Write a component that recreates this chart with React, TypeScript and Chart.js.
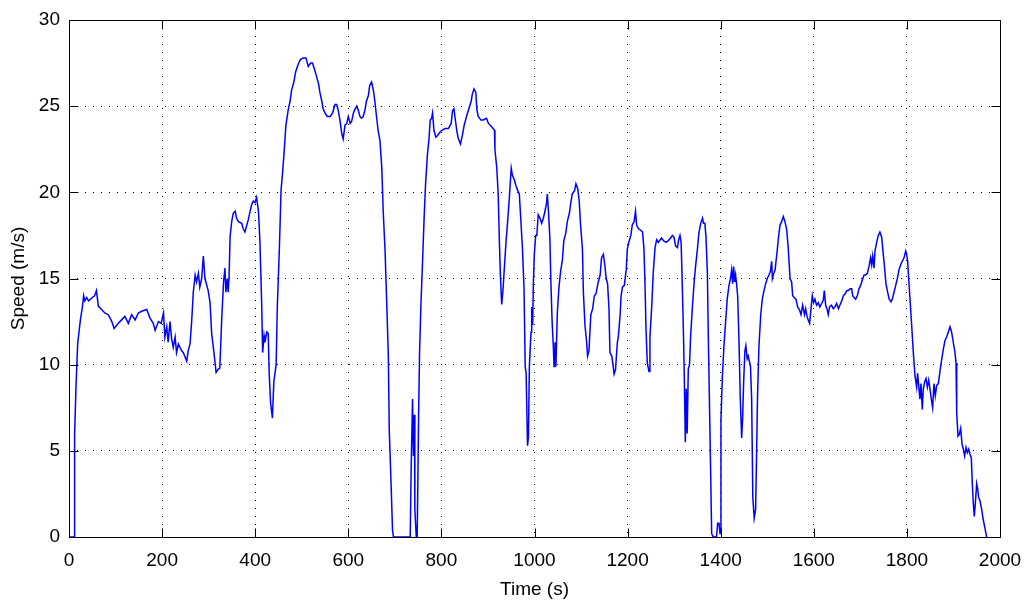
import React, { useEffect, useRef } from 'react';
import { Chart, registerables } from 'chart.js';

Chart.register(...registerables);

// Time (s)
const timeS = [
  0, 11, 12, 15, 18.6, 21.5, 25, 28.6, 31.5, 34, 38, 42, 46, 50, 55, 59, 63, 70, 77, 84.5, 92, 97, 106, 113, 120, 127.5, 134.6, 142, 149, 156, 167, 174, 181, 185, 192, 198, 203, 206, 210, 213, 217, 220.5, 224, 228, 231, 235, 242, 245.6, 253, 256, 260, 263.5, 267, 271, 274, 278, 281, 285, 288.6, 292, 296, 299, 303, 306.5, 311, 316, 321,
  324, 328, 332, 335, 337, 340, 342, 344, 346, 349.5, 353, 357, 360, 364, 371, 374, 378, 382, 385, 389, 392.5, 396, 399.5, 403, 407, 410, 414, 416, 419, 421, 425, 428, 430, 433, 437, 440, 445, 447.5, 452, 455.5, 459, 462, 466, 471, 475, 478, 483, 487, 492, 497, 503, 509, 514, 519, 523, 528, 532, 536, 539, 543, 546, 550, 555, 561, 566, 571.5, 575, 578, 582, 586, 589, 593, 596.5, 600, 604, 607, 611, 614, 618, 621, 625, 628, 632, 636, 639, 643, 646, 650, 654, 657, 661, 664,
  668, 672, 675, 679, 683, 686, 688, 692, 695, 697, 733, 735, 738, 740, 742, 743, 746, 748, 751, 753, 756, 759, 763, 766, 770, 773.4, 776, 779, 781, 784, 788, 792, 797, 801, 808, 815, 821, 824, 827, 829, 833, 836.4, 841, 845, 849, 854, 859, 864, 866.5, 870, 874, 876, 879, 885, 890, 897, 901, 908, 914, 915, 919, 922, 924.5, 927, 929.5, 932, 935, 939, 942, 946, 950, 952.4, 957, 960, 964, 967.4, 970, 974, 977.5, 980, 982, 985, 987, 989,
  992.5, 994, 996, 997.5, 999.6, 1002.5, 1005, 1008, 1012, 1015.4, 1019, 1022.5, 1026, 1027.5, 1030, 1033, 1035.4, 1038, 1040.4, 1042, 1044, 1046, 1049, 1052.6, 1056, 1060, 1063, 1067, 1070.5, 1075, 1078, 1081, 1086, 1089, 1093, 1096, 1099, 1103, 1105, 1108.4, 1112, 1114, 1117, 1121, 1125, 1128.5, 1132, 1137, 1141, 1144, 1148, 1151.4, 1154, 1157, 1160, 1162, 1166, 1168, 1171, 1174, 1178, 1180, 1184, 1186, 1189, 1193, 1197, 1199.4, 1203, 1207, 1210, 1214, 1217, 1219.4, 1223, 1228, 1232, 1235, 1237.3, 1239.5, 1242.3, 1246, 1248, 1252, 1255, 1259, 1262.4, 1266, 1270, 1273, 1277, 1282.4, 1287.5, 1292.5, 1296, 1299.6, 1303, 1307, 1310, 1312.5, 1315, 1317.5, 1320, 1322, 1324, 1326, 1328, 1330.4, 1333,
  1335.5, 1339, 1343, 1346, 1350, 1353, 1357, 1361, 1363, 1366, 1368.4, 1371.3, 1373.4, 1377, 1380.6, 1384, 1391, 1393.5, 1396.3, 1398.5, 1400.6, 1403.5, 1407, 1410.6, 1414, 1417.8, 1421, 1423.5, 1425.7, 1427.8, 1430, 1432, 1434, 1436.4, 1439, 1442, 1445, 1447, 1449.3, 1452, 1454, 1457, 1459, 1461.5, 1464, 1466.5, 1469, 1472, 1475, 1477, 1479, 1482, 1486, 1489.4, 1493, 1496.6, 1500, 1503.7, 1506.6, 1509.5, 1511, 1514, 1517, 1518.8, 1521, 1524, 1527.4, 1531, 1534.5, 1538, 1541.7, 1545, 1549, 1552.4, 1554.6, 1558, 1561.7, 1565.3, 1569, 1572.5, 1576, 1580, 1582.5, 1585.4, 1588, 1591, 1594, 1596.8, 1599.7, 1602.5, 1606, 1609.7, 1613, 1617, 1620.4, 1622.6, 1625.5, 1628.3, 1631, 1634, 1638, 1642, 1645.5, 1649, 1653,
  1656, 1660, 1663.5, 1667, 1671, 1674.2, 1678, 1681.4, 1683.5, 1686.4, 1690, 1693.5, 1697, 1700.7, 1704, 1708, 1711.4, 1715, 1718.6, 1722, 1724.3, 1726.5, 1729.3, 1731.5, 1735, 1738.6, 1742, 1745.8, 1748, 1751.5, 1755, 1758.7, 1762, 1766, 1768.7, 1772.3, 1776, 1779.5, 1783, 1786.6, 1790, 1793.8, 1797.4, 1799.5, 1801.6, 1803.8, 1806.7, 1810.2, 1813.8, 1817.4, 1821, 1823, 1826, 1828, 1830.3, 1833, 1835.3, 1838, 1841, 1844, 1846.8, 1849.6, 1852.5, 1855.3, 1858.2, 1861, 1864, 1867.5, 1871, 1874.7, 1878.3, 1881.8, 1885.4, 1889, 1892.6, 1896, 1899.7, 1903.3, 1905.5, 1907, 1909.8, 1912.6, 1915.5, 1918.4, 1921.2, 1924, 1927, 1929.8, 1932.7, 1935.5, 1938.4, 1940.5, 1942.7, 1944.8, 1947, 1949.9, 1952, 1954, 1957, 1960.6, 1964, 1967.8, 1971.3,
];

// Speed (m/s)
const speedMs = [
  0, 0, 5.9, 8.7, 11.2, 11.9, 12.7, 13.3, 14.0, 13.7, 13.9, 13.7, 13.8, 13.9, 14.0, 14.3, 13.4, 13.2, 13.0, 12.9, 12.5, 12.1, 12.4, 12.6, 12.8, 12.4, 12.9, 12.6, 13.0, 13.1, 13.2, 12.7, 12.4, 12.0, 12.5, 12.4, 13.0, 11.6, 12.2, 11.3, 12.5, 11.5, 11.0, 11.6, 10.7, 11.2, 10.8, 10.7, 10.2, 10.8, 11.2, 12.5, 14.2, 15.2, 14.8, 15.3, 14.5, 15.0, 16.3, 15.0, 14.6, 14.3, 13.6, 11.8, 10.8, 9.55, 9.75,
  9.8, 12.6, 14.8, 15.6, 14.2, 15.0, 14.2, 15.2, 17.4, 18.3, 18.8, 18.9, 18.5, 18.3, 18.2, 17.9, 17.7, 18.1, 18.4, 18.9, 19.3, 19.5, 19.4, 19.7, 18.9, 17.25, 13.45, 10.7, 11.7, 11.3, 11.9, 11.8, 9.55, 7.8, 6.9, 9.0, 10.0, 13.35, 16.8, 20.1, 21.2, 22.3, 23.9, 24.8, 25.3, 25.9, 26.4, 27.0, 27.4, 27.7, 27.8, 27.8, 27.3, 27.5, 27.5, 27.1, 26.7, 26.3, 25.8, 25.3, 24.85, 24.6, 24.4, 24.4, 24.6, 25.1, 25.1, 24.8, 24.2, 23.4, 23.1, 23.9, 24.0, 24.4, 24.0, 24.1, 24.6, 24.8, 25.0, 24.8, 24.4, 24.3, 24.4, 24.8, 25.3, 25.6, 26.2, 26.4, 25.9, 25.3, 24.3, 23.6,
  23.0, 21.4, 18.9, 16.6, 13.2, 10.5, 6.2, 3.0, 0.4, 0, 0, 3.9, 8.0, 4.7, 7.1, 1.6, 0, 0, 7.0, 10.6, 13.45, 15.6, 18.6, 20.5, 22.2, 23.1, 24.2, 24.3, 24.6, 23.6, 23.2, 23.3, 23.5, 23.6, 23.7, 23.7, 24.0, 24.75, 24.85, 24.4, 23.6, 23.1, 22.8, 23.3, 23.9, 24.4, 24.85, 25.3, 25.7, 26.0, 25.8, 24.85, 24.4, 24.2, 24.2, 24.3, 24.0, 23.8, 23.6, 22.5, 21.4, 19.9, 17.2, 15.0, 13.5, 14.2, 15.5, 17.2, 18.2, 19.7, 21.4, 21.0, 20.7, 20.4, 20.1, 19.9, 18.7, 16.8, 14.4, 9.9, 9.5, 5.3, 5.8, 9.9,
  11.9, 13.35, 12.3, 14.6, 16.4, 17.5, 17.5, 18.7, 18.5, 18.2, 18.5, 18.9, 19.4, 19.9, 18.9, 17.35, 14.6, 12.4, 11.1, 9.9, 11.3, 9.9, 13.0, 14.5, 15.4, 16.1, 17.2, 17.6, 18.3, 18.8, 19.4, 19.9, 20.1, 20.5, 20.2, 19.5, 18.1, 16.7, 14.2, 12.3, 11.3, 10.5, 10.8, 12.9, 13.25, 14.0, 14.1, 14.8, 15.2, 16.2, 16.4, 15.7, 15.0, 14.7, 13.25, 10.7, 10.5, 10.1, 9.45, 9.7, 11.3, 11.6, 12.9, 14.0, 14.5, 14.6, 15.5, 16.7, 17.15, 17.5, 18.1, 18.3, 18.9, 18.1, 17.9, 17.8, 17.7, 16.8, 14.8, 12.1, 10.1, 9.6, 11.6, 13.45, 15.3, 16.8, 17.25, 17.1, 17.25, 17.35, 17.2, 17.1, 17.2, 17.35, 17.5, 17.4, 16.9, 16.8, 17.3, 17.5, 17.1, 14.6, 11.8, 9.0, 5.5, 8.6, 6.0, 9.75, 10.0,
  11.7, 13.25, 14.8, 15.7, 16.7, 17.6, 18.2, 18.5, 18.2, 18.2, 17.4, 15.4, 11.6, 6.0, 0.2, 0, 0, 0.8, 0.8, 0.2, 6.8, 9.3, 11.1, 12.5, 13.8, 14.6, 15.0, 15.5, 14.7, 15.7, 14.8, 15.2, 14.7, 14.0, 11.7, 8.1, 5.75, 6.8, 9.0, 10.8, 11.1, 10.35, 10.5, 10.2, 9.9, 8.0, 2.3, 1.1, 1.6, 4.7, 8.0, 11.0, 12.9, 13.8, 14.3, 14.7, 15.0, 15.2, 15.4, 16.0, 15.0, 15.3, 15.5, 16.0, 16.5, 17.35, 18.1, 18.3, 18.6, 18.3, 17.85, 16.8, 15.0, 14.8, 14.0, 13.9, 13.8, 13.35, 13.2, 12.9, 13.45, 12.9, 13.25, 12.8, 12.6, 12.4, 13.25, 14.0, 13.6, 13.8, 13.45, 13.6, 13.35, 13.55, 13.75, 14.3, 13.45, 13.25, 12.9, 13.35, 13.45, 13.25, 13.35, 13.55, 13.25,
  13.45, 13.7, 14.0, 14.1, 14.3, 14.3, 14.4, 14.4, 14.0, 13.9, 13.8, 14.0, 14.4, 14.6, 14.9, 15.2, 15.2, 15.3, 15.7, 16.2, 15.8, 16.3, 15.6, 16.6, 17.1, 17.5, 17.7, 17.4, 16.75, 15.8, 14.7, 14.2, 13.8, 13.65, 13.8, 14.2, 14.6, 15.0, 15.5, 15.8, 16.0, 16.2, 16.6, 16.4, 16.0, 15.0, 13.8, 12.3, 10.7, 9.35, 8.7, 9.5, 8.6, 8.0, 8.9, 7.4, 8.6, 9.0, 9.2, 8.7, 9.1, 8.6, 8.0, 7.5, 8.9, 8.2, 8.8, 8.9, 9.6, 10.3, 10.9, 11.4, 11.6, 11.9, 12.2, 11.9, 11.3, 10.7, 10.1, 7.2, 5.85, 5.95, 6.3, 5.4, 5.1, 4.7, 5.2, 4.9, 5.1, 4.8, 4.6, 3.1, 1.95, 1.2, 1.95, 3.1, 2.8, 2.3, 2.1, 1.6, 1.0, 0.5, 0,
];

const xTicks = [0, 200, 400, 600, 800, 1000, 1200, 1400, 1600, 1800, 2000];
const yTicks = [0, 5, 10, 15, 20, 25, 30];

const FONT = "'Liberation Sans', Arial, sans-serif";

const matlabFrame = {
  id: 'matlabFrame',
  afterDatasetsDraw(chart: any) {
    const { ctx, chartArea, scales } = chart;
    const { left, right, top, bottom } = chartArea;
    const x = scales.x;
    const y = scales.y;
    const L = 9;
    const l = Math.round(left) + 0.5;
    const r = Math.round(right) + 0.5;
    const t = Math.round(top) + 0.5;
    const b = Math.round(bottom) + 0.5;
    ctx.save();
    ctx.strokeStyle = '#000';
    ctx.lineWidth = 1;
    ctx.setLineDash([]);
    ctx.beginPath();
    ctx.moveTo(l, t);
    ctx.lineTo(r, t);
    ctx.lineTo(r, b);
    ctx.lineTo(l, b);
    ctx.closePath();
    for (const v of xTicks) {
      const px = Math.round(x.getPixelForValue(v)) + 0.5;
      ctx.moveTo(px, b);
      ctx.lineTo(px, b - L);
      ctx.moveTo(px, t);
      ctx.lineTo(px, t + L);
    }
    for (const v of yTicks) {
      const py = Math.round(y.getPixelForValue(v)) + 0.5;
      ctx.moveTo(l, py);
      ctx.lineTo(l + L, py);
      ctx.moveTo(r, py);
      ctx.lineTo(r - L, py);
    }
    ctx.stroke();
    ctx.restore();
  },
};

export default function App() {
  const ref = useRef<HTMLCanvasElement | null>(null);

  useEffect(() => {
    document.body.style.margin = '0';
    const canvas = ref.current;
    if (!canvas) return;
    const points = timeS.map((t, i) => ({ x: t, y: speedMs[i] }));
    const chart = new Chart(canvas, {
      type: 'line',
      data: {
        datasets: [
          {
            label: 'Speed',
            data: points,
            borderColor: '#0000ff',
            borderWidth: 1.5,
            pointRadius: 0,
            fill: false,
            tension: 0,
          },
        ],
      },
      options: {
        responsive: false,
        animation: false,
        layout: { padding: { left: 0, top: 20, right: 24, bottom: 0 } },
        plugins: {
          legend: { display: false },
          tooltip: { enabled: false },
        },
        scales: {
          x: {
            type: 'linear',
            min: 0,
            max: 2000,
            afterBuildTicks: (scale: any) => {
              scale.ticks = xTicks.map((v) => ({ value: v }));
            },
            afterFit: (scale: any) => {
              scale.height = 71;
              scale.paddingLeft = 0;
              scale.paddingRight = 0;
            },
            ticks: {
              padding: 12,
              color: '#000',
              maxRotation: 0,
              autoSkip: false,
              font: { family: FONT, size: 19 },
              callback: (v: any) => String(v),
            },
            grid: { color: '#000', lineWidth: 1, drawTicks: false },
            border: { display: false, dash: [1, 7] },
            title: {
              display: true,
              text: 'Time (s)',
              color: '#000',
              font: { family: FONT, size: 19 },
              padding: { top: 0, bottom: 7 },
            },
          },
          y: {
            type: 'linear',
            min: 0,
            max: 30,
            afterBuildTicks: (scale: any) => {
              scale.ticks = yTicks.map((v) => ({ value: v }));
            },
            afterFit: (scale: any) => {
              scale.width = 69;
              scale.paddingTop = 0;
              scale.paddingBottom = 0;
            },
            ticks: {
              padding: 9,
              color: '#000',
              font: { family: FONT, size: 19 },
              callback: (v: any) => String(v),
            },
            grid: { color: '#000', lineWidth: 1, drawTicks: false },
            border: { display: false, dash: [1, 7] },
            title: {
              display: true,
              text: 'Speed (m/s)',
              color: '#000',
              font: { family: FONT, size: 19 },
              padding: { top: 7, bottom: 0 },
            },
          },
        },
      },
      plugins: [matlabFrame],
    });
    return () => chart.destroy();
  }, []);

  return (
    <div style={{ position: 'fixed', left: 0, top: 0, width: 1024, height: 608, background: '#fff' }}>
      <canvas ref={ref} width={1024} height={608} style={{ display: 'block' }} />
    </div>
  );
}
